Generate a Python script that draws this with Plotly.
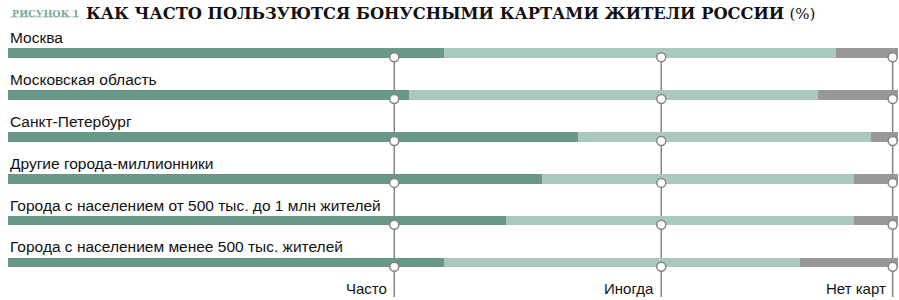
import plotly.graph_objects as go

categories = [
    "Москва",
    "Московская область",
    "Санкт-Петербург",
    "Другие города-миллионники",
    "Города с населением от 500 тыс. до 1 млн жителей",
    "Города с населением менее 500 тыс. жителей",
]
often = [49, 45, 64, 60, 56, 49]
sometimes = [44, 46, 33, 35, 39, 40]
no_cards = [7, 9, 3, 5, 5, 11]

series_names = ["Часто", "Иногда", "Нет карт"]
guide_x = [43.4, 73.4, 99.4]  # legend guide positions on the % axis

title_tag = "РИСУНОК 1"
title_main = "КАК ЧАСТО ПОЛЬЗУЮТСЯ БОНУСНЫМИ КАРТАМИ ЖИТЕЛИ РОССИИ"
title_unit = "(%)"

C_DARK = "#6a9887"
C_LIGHT = "#aac8bd"
C_GRAY = "#98989a"
C_LINE = "#858585"

idx = list(range(len(categories)))
BAR_W = 0.23

fig = go.Figure()
for vals, col, name in zip([often, sometimes, no_cards], [C_DARK, C_LIGHT, C_GRAY], series_names):
    fig.add_trace(go.Bar(
        y=idx, x=vals, orientation="h", name=name,
        marker=dict(color=col, line=dict(width=0)),
        width=BAR_W, showlegend=False, hoverinfo="skip",
    ))

# guide lines (drawn below bars)
y_bottom = 5.823
for gx in guide_x:
    fig.add_shape(type="line", xref="x", yref="y", x0=gx, x1=gx,
                  y0=0.1, y1=y_bottom, layer="below",
                  line=dict(color=C_LINE, width=1.5))

# circles
cx, cy = [], []
for i in idx:
    for gx in guide_x:
        cx.append(gx)
        cy.append(i + 0.1)
fig.add_trace(go.Scatter(
    x=cx, y=cy, mode="markers", showlegend=False, hoverinfo="skip",
    marker=dict(size=9, color="white", line=dict(color=C_LINE, width=1.5)),
))

# category labels
for i, c in zip(idx, categories):
    fig.add_annotation(x=0, y=i - 0.12, xref="x", yref="y", text=c,
                       showarrow=False, xanchor="left", yanchor="bottom",
                       font=dict(family="Liberation Sans, Arial", size=15.5, color="#111"))

# bottom guide labels
for gx, nm in zip(guide_x, series_names):
    fig.add_annotation(x=gx, y=5.61, xref="x", yref="y", text=nm,
                       showarrow=False, xanchor="right", yanchor="middle", xshift=-5,
                       font=dict(family="Liberation Sans, Arial", size=15, color="#111"))

# title
fig.add_annotation(x=0.2, y=-0.95, xref="x", yref="y", text="<b>" + title_tag + "</b>",
                   showarrow=False, xanchor="left", yanchor="middle",
                   font=dict(family="DejaVu Serif", size=9.5, color="#7aab9b"))
fig.add_shape(type="line", xref="x", yref="y", x0=0.2, x1=8.0, y0=-0.86, y1=-0.86,
              line=dict(color="#b8c8c2", width=1))
fig.add_annotation(x=8.5, y=-0.95, xref="x", yref="y",
                   text="<b>" + title_main + "</b> <span style='font-size:15px'>" + title_unit + "</span>",
                   showarrow=False, xanchor="left", yanchor="middle",
                   font=dict(family="DejaVu Serif", size=16.3, color="#111"))

fig.update_layout(
    width=899, height=300,
    margin=dict(l=8, r=1, t=0, b=0),
    plot_bgcolor="white", paper_bgcolor="white",
    barmode="stack", bargap=0,
    xaxis=dict(range=[0, 100], visible=False, fixedrange=True),
    yaxis=dict(range=[5.895, -1.265], visible=False, fixedrange=True),
)

fig.write_html("out.html", config={"displayModeBar": False},
               post_script="document.body.style.margin='0';document.body.style.overflow='hidden';")
